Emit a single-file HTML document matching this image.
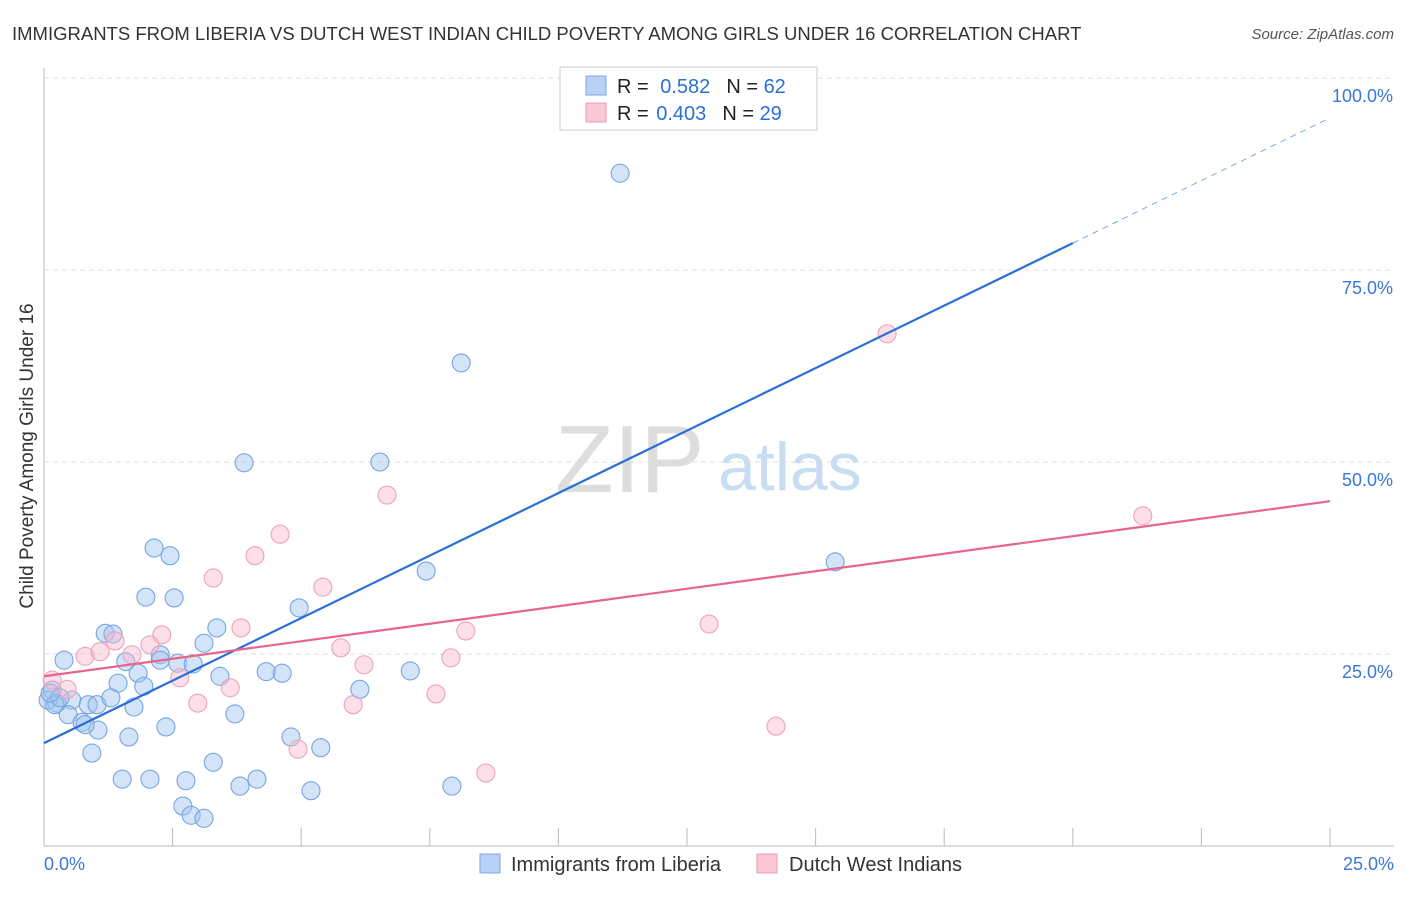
<!DOCTYPE html>
<html><head><meta charset="utf-8"><style>
body{margin:0;background:#fff;font-family:"Liberation Sans",sans-serif}
svg text{font-family:"Liberation Sans",sans-serif}
</style></head><body>
<svg id="c" width="1406" height="892">
<text x="12" y="40" font-size="18.5" fill="#333">IMMIGRANTS FROM LIBERIA VS DUTCH WEST INDIAN CHILD POVERTY AMONG GIRLS UNDER 16 CORRELATION CHART</text>
<text x="1394" y="39" font-size="15" fill="#555" font-style="italic" text-anchor="end">Source: ZipAtlas.com</text>
<text x="33" y="456" font-size="19" fill="#333" text-anchor="middle" transform="rotate(-90 33 456)">Child Poverty Among Girls Under 16</text>
<text x="555" y="492" font-size="96" fill="#ddd" font-family="Liberation Serif">ZIP</text>
<text x="718" y="490" font-size="68" fill="#c8dcf2">atlas</text>
<g id="grid"></g><g id="pts"></g><g id="lines"></g>
<g>
<rect x="560" y="67" width="257" height="63" fill="#fff" stroke="#ccc"/>
<rect x="586" y="76" width="20" height="19" fill="#b8d2f5" stroke="#7aa7e3"/>
<rect x="586" y="103" width="20" height="19" fill="#fac8d5" stroke="#eb9bb3"/>
<text x="617" y="93" font-size="20" fill="#222">R = <tspan fill="#2a6fd6" dx="6">0.582</tspan><tspan dx="16">N = </tspan><tspan fill="#2a6fd6">62</tspan></text>
<text x="617" y="120" font-size="20" fill="#222">R = <tspan fill="#2a6fd6" dx="2">0.403</tspan><tspan dx="16">N = </tspan><tspan fill="#2a6fd6">29</tspan></text>
</g>
<g>
<rect x="480" y="854" width="20" height="19" fill="#b8d2f5" stroke="#7aa7e3"/>
<text x="511" y="871" font-size="20" fill="#333">Immigrants from Liberia</text>
<rect x="757" y="854" width="20" height="19" fill="#fac8d5" stroke="#eb9bb3"/>
<text x="789" y="871" font-size="20" fill="#333">Dutch West Indians</text>
</g>
</svg>
<script>
const xTicks=[0,2.5,5,7.5,10,12.5,15,17.5,20,22.5,25];
const yTicks=[25,50,75,100];
const yTickLabels=["25.0%","50.0%","75.0%","100.0%"];
const xTickLabels=["0.0%","25.0%"];
const liberiaX=[11.20,8.11,3.89,6.53,2.14,2.45,7.43,15.38,1.98,2.53,4.96,3.36,1.19,1.34,3.11,0.39,2.26,1.59,2.60,2.90,1.83,3.42,4.32,4.63,7.12,1.44,1.94,6.14,0.16,0.08,0.25,0.54,0.86,1.03,1.30,1.75,0.47,0.74,1.05,3.71,2.37,1.65,4.80,5.38,0.93,3.29,1.52,2.06,2.76,3.81,4.14,5.19,7.93,2.70,2.86,3.11,13.76,0.21,0.31,0.12,0.80,2.26];
const liberiaY=[87.6,62.9,49.9,50.0,38.8,37.8,35.8,37.0,32.4,32.3,31.0,28.4,27.7,27.6,26.4,24.2,24.9,24.0,23.8,23.7,22.5,22.1,22.7,22.5,22.8,21.2,20.8,20.4,20.3,19.0,18.6,19.0,18.4,18.4,19.3,18.1,17.1,16.1,15.1,17.2,15.5,14.2,14.2,12.8,12.1,10.9,8.7,8.7,8.5,7.8,8.7,7.2,7.8,5.2,4.0,3.6,99.7,18.4,19.3,19.9,15.8,24.2];
const dutchX=[0.16,0.45,0.80,1.09,1.38,1.71,2.06,2.29,2.64,2.99,3.29,3.62,3.83,4.10,4.59,4.94,5.42,5.77,6.01,6.22,6.67,7.62,7.91,8.20,8.59,12.93,14.23,16.39,21.36];
const dutchY=[21.6,20.4,24.7,25.3,26.7,24.9,26.2,27.5,21.9,18.6,34.9,20.6,28.4,37.8,40.6,12.6,33.7,25.8,18.4,23.6,45.7,19.8,24.5,28.0,9.5,28.9,15.6,66.7,43.0];
const liberiaFit=[13.4,78.5,94.8]; // at x=0,20,25
const dutchFit=[22.1,44.9]; // at x=0,25
const X=v=>44+v*51.44, Y=v=>846-v*7.68;
const NS="http://www.w3.org/2000/svg";
function mk(p,t,a){const e=document.createElementNS(NS,t);for(const k in a)e.setAttribute(k,a[k]);p.appendChild(e);return e;}
const g=document.getElementById('grid');
const ax1=mk(g,'line',{x1:44,y1:68,x2:44,y2:846,stroke:'#bbb'});


const ax2=mk(g,'line',{x1:44,y1:846,x2:1394,y2:846,stroke:'#bbb'});


yTicks.forEach((v,i)=>{
 const l=mk(g,'line',{x1:44,y1:Y(v),x2:1394,y2:Y(v),stroke:'#ddd','stroke-dasharray':'5,4'});
 
 
 const t=mk(g,'text',{x:1393,y:Y(v)+24,'font-size':18,fill:'#3a78d8','text-anchor':'end'});
 t.textContent=yTickLabels[i];
 
 
});
xTicks.forEach(v=>{
 const l=mk(g,'line',{x1:X(v),y1:828,x2:X(v),y2:846,stroke:'#bbb'});
 
 
});
[[0,44,'start'],[25,1394,'end']].forEach((a,i)=>{
 const t=mk(g,'text',{x:a[1],y:870,'font-size':18,fill:'#3a78d8','text-anchor':a[2]});
 t.textContent=xTickLabels[i];
 
 
});
const p=document.getElementById('pts');
liberiaX.forEach((v,i)=>{
 const c=mk(p,'circle',{cx:X(v),cy:Y(liberiaY[i]),r:9,fill:'rgba(160,195,240,0.45)',stroke:'#77a5e2','stroke-width':1.1});
 
 
});
dutchX.forEach((v,i)=>{
 const c=mk(p,'circle',{cx:X(v),cy:Y(dutchY[i]),r:9,fill:'rgba(248,185,205,0.45)',stroke:'#eda3ba','stroke-width':1.1});
 
 
});
const L=document.getElementById('lines');
const b1=mk(L,'line',{x1:X(0),y1:Y(liberiaFit[0]),x2:X(20),y2:Y(liberiaFit[1]),stroke:'#2a6fd6','stroke-width':2.2});


const b2=mk(L,'line',{x1:X(20),y1:Y(liberiaFit[1]),x2:X(25),y2:Y(liberiaFit[2]),stroke:'#7aa7e3','stroke-width':1,'stroke-dasharray':'6,5'});


const d1=mk(L,'line',{x1:X(0),y1:Y(dutchFit[0]),x2:X(25),y2:Y(dutchFit[1]),stroke:'#e8648f','stroke-width':2.2});


</script>
</body></html>
